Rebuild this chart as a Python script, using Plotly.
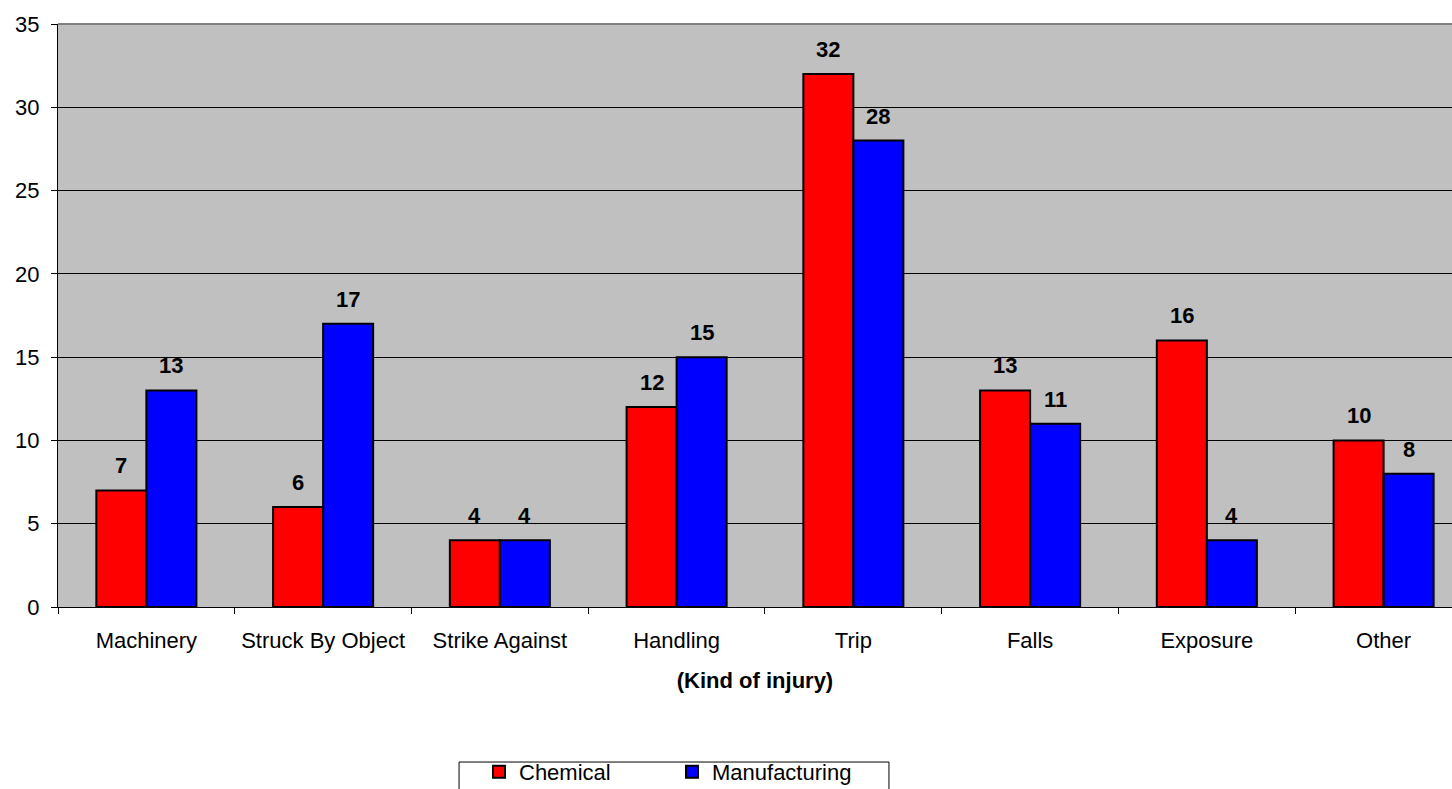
import plotly.graph_objects as go

categories = ["Machinery", "Struck By Object", "Strike Against", "Handling",
              "Trip", "Falls", "Exposure", "Other"]
chemical = [7, 6, 4, 12, 32, 13, 16, 10]
manufacturing = [13, 17, 4, 15, 28, 11, 4, 8]
y_ticks = [0, 5, 10, 15, 20, 25, 30, 35]

FONT = "Liberation Sans, Arial, sans-serif"
FS = 22

fig = go.Figure()
fig.add_trace(go.Bar(name="Chemical", x=categories, y=chemical,
                     marker=dict(color="#FF0000", line=dict(color="#000000", width=2))))
fig.add_trace(go.Bar(name="Manufacturing", x=categories, y=manufacturing,
                     marker=dict(color="#0000FF", line=dict(color="#000000", width=2))))

# bold value labels above each bar
for i, cat in enumerate(categories):
    for val, off in ((chemical[i], -0.5), (manufacturing[i], 0.5)):
        fig.add_annotation(x=cat, y=val, text=f"<b>{val}</b>", showarrow=False,
                           xref="x", yref="y", yanchor="bottom", yshift=10,
                           xshift=off * 50,
                           font=dict(family=FONT, size=FS, color="#000000"))

fig.update_layout(
    width=1452, height=789,
    margin=dict(l=58, r=0, t=24, b=182, autoexpand=False),
    paper_bgcolor="#FFFFFF",
    plot_bgcolor="#C0C0C0",
    barmode="group",
    bargap=0.434,
    bargroupgap=0,
    font=dict(family=FONT, size=FS, color="#000000"),
    showlegend=True,
    legend=dict(orientation="h", x=0.302, y=-0.247, xanchor="left", yanchor="top",
                bgcolor="rgba(0,0,0,0)", borderwidth=0,
                font=dict(family=FONT, size=FS, color="#000000"),
                entrywidth=148, itemwidth=30, tracegroupgap=0),
)
fig.update_xaxes(
    range=[-0.5, 7.387], automargin=False,
    showline=True, linecolor="#000000", linewidth=1,
    ticks="outside", tickson="boundaries", ticklen=6, tickcolor="#000000",
    showgrid=False,
    tickfont=dict(family=FONT, size=FS),
    ticklabelstandoff=14,
    title=dict(text="<b>(Kind of injury)</b>", font=dict(family=FONT, size=FS), standoff=20),
)
fig.update_yaxes(
    range=[0, 35], tickvals=y_ticks, automargin=False,
    showline=True, linecolor="#000000", linewidth=1,
    ticks="outside", ticklen=6, tickcolor="#000000",
    showgrid=True, gridcolor="#000000", gridwidth=1,
    tickfont=dict(family=FONT, size=FS),
    ticklabelstandoff=7,
    zeroline=False,
)
# top border of the plot area
fig.add_shape(type="line", xref="paper", yref="paper", x0=0, x1=1, y0=1, y1=1,
              line=dict(color="#808080", width=2))
# legend frame
fig.add_shape(type="rect", xref="paper", yref="paper",
              x0=0.2877, x1=0.5961, y0=-0.2659, y1=-0.40,
              line=dict(color="#000000", width=1), fillcolor="rgba(0,0,0,0)")

fig.write_html("out.html")
